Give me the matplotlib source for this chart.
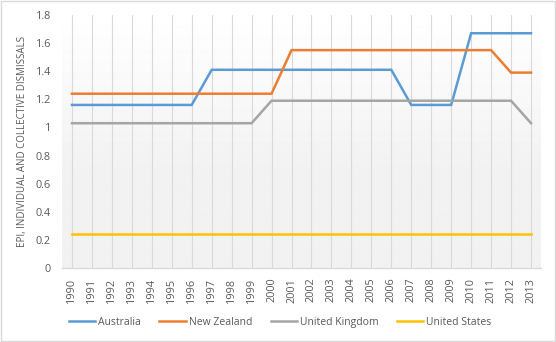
import matplotlib

matplotlib.use("Agg")
import matplotlib.pyplot as plt
import numpy as np
from matplotlib.lines import Line2D
from matplotlib.patches import Rectangle

years = [str(y) for y in range(1990, 2014)]

australia = [1.16] * 7 + [1.41] * 10 + [1.16] * 3 + [1.67] * 4
new_zealand = [1.24] * 11 + [1.55] * 11 + [1.39] * 2
united_kingdom = [1.03] * 10 + [1.19] * 13 + [1.03]
united_states = [0.24] * 24

series = [
    ("Australia", australia, "#5B9BD5"),
    ("New Zealand", new_zealand, "#ED7D31"),
    ("United Kingdom", united_kingdom, "#A5A5A5"),
    ("United States", united_states, "#FFC000"),
]

TEXT_COLOR = "#595959"
GRID_COLOR = "#d9d9d9"

plt.rcParams["font.family"] = ["Open Sans", "DejaVu Sans"]

fig = plt.figure(figsize=(5.56, 3.42), dpi=100)
ax = fig.add_axes([0.1115, 0.2164, 0.8615, 0.7398])

# plot area fill: white at the top fading to light gray
grad = np.clip(np.linspace(0, 1, 256) / 0.6, 0, 1)
grad = 1.0 - grad * (1.0 - 0xF2 / 255)
img = np.repeat(grad[:, None], 2, axis=1)
ax.imshow(img, cmap="gray", vmin=0, vmax=1, extent=[0, 1, 0, 1],
          transform=ax.transAxes, aspect="auto", zorder=0)

x = np.arange(len(years))
for xi in x:
    ax.axvline(xi, color=GRID_COLOR, lw=0.8, zorder=1)

for name, values, color in series:
    ax.plot(x, values, color=color, lw=1.8, label=name, zorder=3,
            solid_joinstyle="miter")

ax.set_xlim(-0.5, len(years) - 0.5)
ax.set_ylim(0, 1.8)
ax.set_yticks(np.arange(0, 1.81, 0.2))
ax.set_yticklabels(["0", "0.2", "0.4", "0.6", "0.8", "1", "1.2", "1.4", "1.6", "1.8"])
ax.set_xticks(x)
ax.set_xticklabels(years, rotation=90)

ax.tick_params(axis="both", length=0, colors=TEXT_COLOR, labelsize=7.8)
ax.tick_params(axis="x", pad=7)
ax.tick_params(axis="y", pad=8)

for side in ["top", "right", "left"]:
    ax.spines[side].set_visible(False)
ax.spines["bottom"].set_color(GRID_COLOR)
ax.spines["bottom"].set_linewidth(1.0)

ax.set_ylabel("EPI, INDIVIDUAL AND COLLECTIVE DISMISSALS", color=TEXT_COLOR,
              fontsize=7, labelpad=4)
ax.yaxis.set_label_coords(-0.07, 0.5)

handles = [Line2D([0], [0], color=c, lw=1.8) for _, _, c in series]
fig.legend(handles, [n for n, _, _ in series], loc="center",
           bbox_to_anchor=(0.504, 0.058), ncol=4, frameon=False,
           fontsize=7.5, handlelength=2.5, handletextpad=0.3,
           columnspacing=1.8, labelcolor=TEXT_COLOR)

fig.patches.append(Rectangle((0.001, 0.002), 0.997, 0.995, transform=fig.transFigure,
                             fill=False, edgecolor=GRID_COLOR, lw=1.0))

fig.savefig("out.png", dpi=100)
